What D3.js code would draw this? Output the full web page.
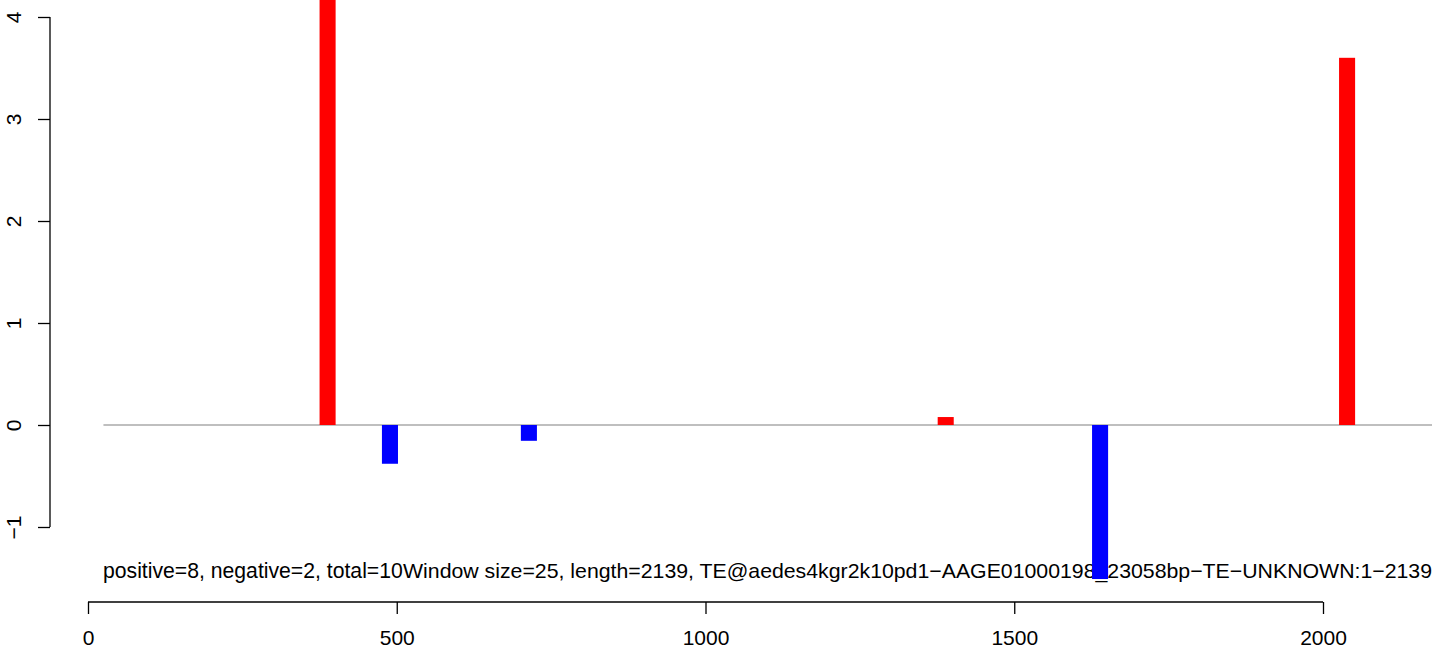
<!DOCTYPE html>
<html><head><meta charset="utf-8">
<script src="https://cdn.jsdelivr.net/npm/d3@7"></script>
<style>html,body{margin:0;padding:0;background:#fff;}svg{display:block;}</style>
</head><body>
<svg id="chart" width="1444" height="650"></svg>
<script>
// Data
const positions = [388, 489, 714, 1389, 1639, 2039];
const values = [4.5, -0.38, -0.155, 0.078, -1.51, 3.6];
const strands = ["positive", "negative", "negative", "positive", "negative", "positive"];
const xTicks = [0, 500, 1000, 1500, 2000];
const yTicks = [-1, 0, 1, 2, 3, 4];
const windowSize = 25;
const leftText = "positive=8, negative=2, total=10";
const rightText = "Window size=25, length=2139, TE@aedes4kgr2k10pd1\u2212AAGE01000198_23058bp\u2212TE\u2212UNKNOWN:1\u22122139";

const svg = d3.select("#chart");
const font = "Liberation Sans, Arial, sans-serif";
const fs = "21px";

const x = d3.scaleLinear().domain([0, 2000]).range([88, 1323]);
const y = d3.scaleLinear().domain([0, 4]).range([425, 17]);

svg.append("defs").append("clipPath").attr("id", "clip")
  .append("rect").attr("x", 0).attr("y", 0).attr("width", 1444).attr("height", 650);

// Y axis
const yAxis = d3.axisLeft(y).tickValues(yTicks).tickSize(12).tickPadding(0)
  .tickFormat(d => d < 0 ? "\u2212" + Math.abs(d) : String(d));
const gy = svg.append("g").attr("transform", "translate(50,0)").call(yAxis);
gy.select(".domain").attr("d", `M0,${y(-1)}V${y(4)}`).attr("stroke", "#000").attr("stroke-width", 1.3);
gy.selectAll(".tick line").attr("stroke", "#000").attr("stroke-width", 1.3);
gy.selectAll(".tick text").attr("x", 0).attr("dy", 0)
  .attr("transform", "translate(-37,0) rotate(-90)")
  .attr("text-anchor", "middle").attr("dominant-baseline", "central")
  .style("font-family", font).style("font-size", fs).attr("fill", "#000");

// X axis
const xAxis = d3.axisBottom(x).tickValues(xTicks).tickSize(12).tickFormat(d3.format("d"));
const gx = svg.append("g").attr("transform", "translate(0,602)").call(xAxis);
gx.select(".domain").attr("d", `M${x(0)},0H${x(2000)}`).attr("stroke", "#000").attr("stroke-width", 1.3);
gx.selectAll(".tick line").attr("stroke", "#000").attr("stroke-width", 1.3);
gx.selectAll(".tick text").attr("y", 43).attr("dy", 0)
  .style("font-family", font).style("font-size", fs).attr("fill", "#000");

// zero line
svg.append("line")
  .attr("x1", x(windowSize)).attr("x2", 1432)
  .attr("y1", y(0)).attr("y2", y(0))
  .attr("stroke", "#808080").attr("stroke-width", 1.2);

// texts
svg.append("text").attr("x", 103).attr("y", 578)
  .style("font-family", font).style("font-size", "21.2px").attr("fill", "#000").text(leftText);
svg.append("text").attr("x", 1432).attr("y", 578).attr("text-anchor", "end")
  .attr("textLength", 1029).attr("lengthAdjust", "spacingAndGlyphs")
  .style("font-family", font).style("font-size", fs).attr("fill", "#000").text(rightText);

// bars
const bw = x(windowSize + 1) - x(0);
svg.append("g").attr("clip-path", "url(#clip)")
  .selectAll("rect").data(positions).join("rect")
  .attr("x", (d) => x(d) - bw / 2)
  .attr("width", bw)
  .attr("y", (d, i) => y(Math.max(0, values[i])))
  .attr("height", (d, i) => Math.abs(y(values[i]) - y(0)))
  .attr("fill", (d, i) => strands[i] === "positive" ? "#FF0000" : "#0000FF");
</script>
</body></html>
